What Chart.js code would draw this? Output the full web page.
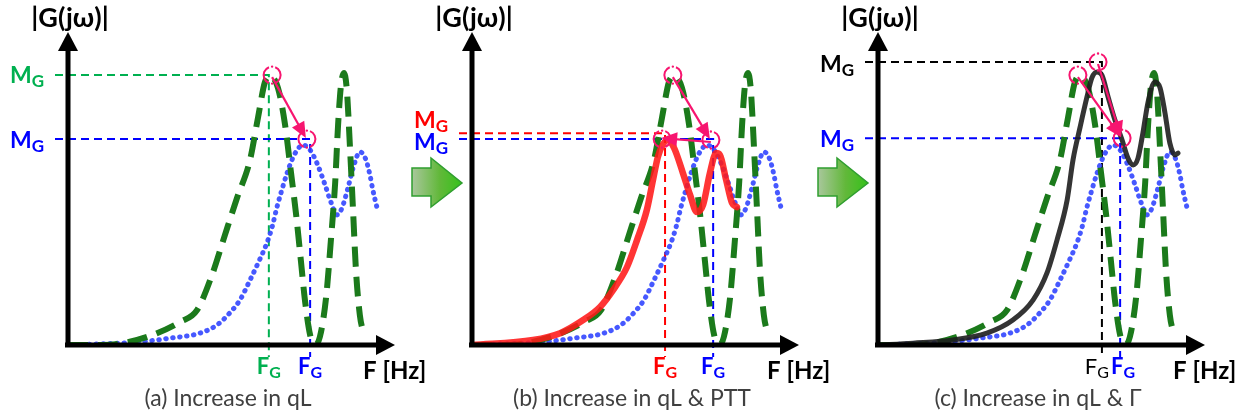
<!DOCTYPE html>
<html>
<head>
<meta charset="utf-8">
<script src="https://cdn.jsdelivr.net/npm/chart.js@4.4.1/dist/chart.umd.min.js"></script>
<style>
  html, body { margin: 0; padding: 0; background: #fff; }
  #wrap { position: relative; width: 1242px; height: 419px; overflow: hidden; background: #fff; }
  canvas { position: absolute; top: 0; }
</style>
</head>
<body>
<div id="wrap">
  <canvas id="panelA" width="432" height="419" style="left:0px"></canvas>
  <canvas id="panelB" width="432" height="419" style="left:404px"></canvas>
  <canvas id="panelC" width="432" height="419" style="left:810px"></canvas>
</div>
<script>
// frequency and magnitude are in arbitrary units, 0..100 on both axes

// baseline response (green dashed)
const greenF = [0, 10.8, 16.9, 25.2, 34.5, 39.7, 44.3, 48.3, 52.0, 56.0, 58.5, 60.6, 62.2, 64.6, 66.8, 68.6, 70.2, 71.7, 72.9, 74.5, 76.0, 77.5, 79.4, 80.9, 82.2, 83.1, 84.0, 84.9, 85.8, 86.8, 87.7, 88.6, 89.8, 91.1];
const greenM = [0, 0, 0.6, 2.9, 7.4, 11.2, 22.4, 35.3, 47.1, 59.3, 73.1, 84.3, 86.2, 82.4, 70.5, 55.4, 41.7, 26.6, 14.4, 3.2, 0, 2.6, 15.1, 33.7, 51.9, 70.5, 83.3, 87.2, 81.7, 62.5, 43.3, 24.0, 9.6, 3.2];

// response after increase in qL (blue dotted)
const blueF = [0, 22.2, 31.4, 40.6, 45.8, 49.8, 52.9, 56.0, 58.5, 61.2, 62.8, 64.3, 65.8, 67.4, 68.9, 70.5, 72.3, 74.5, 76.6, 79.1, 80.9, 82.8, 84.3, 86.2, 88.0, 89.8, 91.7, 92.9, 93.8, 95.1];
const blueM = [0, 1.0, 2.2, 3.8, 6.4, 10.3, 14.4, 20.8, 26.3, 32.7, 37.8, 44.2, 49.7, 55.1, 59.3, 62.5, 64.1, 62.5, 58.3, 51.3, 45.8, 41.7, 43.9, 50.6, 57.7, 61.9, 59.3, 54.5, 49.7, 43.9];

// increase in qL & PTT (red)
const redF = [0, 18.8, 27.1, 34.2, 39.4, 43.4, 47.7, 50.8, 53.8, 55.7, 57.2, 58.8, 60.3, 62.2, 64.9, 67.1, 69.2, 71.1, 73.2, 75.1, 76.3, 78.2, 80.0, 81.5];
const redM = [0, 1.6, 3.8, 8.0, 12.2, 17.6, 25.0, 33.7, 43.3, 52.9, 60.3, 64.4, 65.7, 63.1, 55.1, 48.1, 42.6, 44.9, 55.1, 61.5, 60.9, 52.9, 45.5, 44.2];

// increase in qL & Gamma (black)
const blackF = [0, 10.8, 23.1, 33.5, 41.5, 47.7, 52.0, 55.1, 58.2, 60.0, 62.2, 64.3, 65.8, 67.4, 68.9, 70.8, 72.9, 75.1, 76.9, 78.5, 80.0, 81.5, 83.1, 85.2, 86.8, 88.3, 89.8, 91.4, 92.3];
const blackM = [0, 0.6, 1.6, 3.8, 8.0, 14.4, 23.1, 33.7, 46.5, 59.3, 69.9, 79.5, 85.6, 87.5, 86.5, 79.5, 72.1, 65.7, 59.9, 57.7, 59.9, 67.9, 77.9, 84.3, 82.4, 74.4, 64.7, 60.9, 61.5];

// peak magnitude (MG) and peak frequency (FG) markers per panel
const mgA = [86.5, 66.0];   // green, blue
const fgA = [61.8, 74.5];
const mgB = [67.9, 66.0];   // red, blue
const fgB = [59.4, 74.2];
const mgC = [90.7, 66.3];   // black, blue
const fgC = [68.9, 74.5];

// dashed rings round the peaks
const ringAx = [62.8, 73.5];
const ringAy = [86.5, 66.0];
const ringBx = [61.8, 58.5, 73.5];
const ringBy = [86.5, 66.0, 65.7];
const ringCx = [67.7, 61.5, 75.1];
const ringCy = [90.7, 86.5, 66.3];

const captions = ['(a) Increase in qL', '(b) Increase in qL & PTT', '(c) Increase in qL & \u0393'];

const PINK = '#f7156f';
const FONT = 'Lato, "Open Sans", sans-serif';

function pts(xs, ys) {
  return xs.map(function (x, i) { return { x: x, y: ys[i] }; });
}

function subText(ctx, big, small, x, y, color, bigFont, smallFont, center) {
  ctx.font = bigFont;
  var w1 = ctx.measureText(big).width;
  ctx.font = smallFont;
  var w2 = ctx.measureText(small).width;
  var x0 = center ? x - (w1 + w2) / 2 : x;
  ctx.fillStyle = color;
  ctx.textAlign = 'left';
  ctx.textBaseline = 'alphabetic';
  ctx.font = bigFont;
  ctx.fillText(big, x0, y);
  ctx.font = smallFont;
  ctx.fillText(small, x0 + w1, y + 4);
}

function arrowLine(ctx, x0, y0, x1, y1) {
  var a = Math.atan2(y1 - y0, x1 - x0);
  var c = Math.cos(a), s = Math.sin(a);
  ctx.save();
  ctx.setLineDash([]);
  ctx.strokeStyle = PINK;
  ctx.fillStyle = PINK;
  ctx.lineWidth = 2.2;
  ctx.beginPath();
  ctx.moveTo(x0, y0);
  ctx.lineTo(x1 - 10 * c, y1 - 10 * s);
  ctx.stroke();
  ctx.beginPath();
  ctx.moveTo(x1, y1);
  ctx.lineTo(x1 - 16 * c + 7 * s, y1 - 16 * s - 7 * c);
  ctx.lineTo(x1 - 16 * c - 7 * s, y1 - 16 * s + 7 * c);
  ctx.closePath();
  ctx.fill();
  ctx.restore();
}

function ring(ctx, x, y) {
  ctx.save();
  ctx.setLineDash([]);
  ctx.strokeStyle = PINK;
  ctx.fillStyle = PINK;
  ctx.lineWidth = 2;
  ctx.beginPath();
  ctx.arc(x, y, 8.5, Math.PI * 0.62, Math.PI * 1.38);
  ctx.stroke();
  ctx.beginPath();
  ctx.arc(x, y, 8.5, -Math.PI * 0.38, Math.PI * 0.38);
  ctx.stroke();
  ctx.beginPath();
  ctx.arc(x, y - 8.5, 1.2, 0, Math.PI * 2);
  ctx.arc(x, y + 8.5, 1.2, 0, Math.PI * 2);
  ctx.fill();
  ctx.restore();
}

// decorations: reference lines, axes, rings, arrows and labels
const decor = {
  id: 'decor',
  beforeDatasetsDraw(chart, args, o) {
    var ctx = chart.ctx, xs = chart.scales.x, ys = chart.scales.y;
    var L = chart.chartArea.left, B = chart.chartArea.bottom;
    ctx.save();
    ctx.lineWidth = 2;
    ctx.setLineDash([8, 5]);
    for (var i = 0; i < o.mg.length; i++) {
      var py = ys.getPixelForValue(o.mg[i]);
      var px = xs.getPixelForValue(o.fg[i]);
      ctx.strokeStyle = o.refColors[i];
      ctx.beginPath();
      ctx.moveTo(L - 13, py);
      ctx.lineTo(px, py);
      ctx.lineTo(px, B + 12);
      ctx.stroke();
    }
    ctx.restore();
  },
  afterDatasetsDraw(chart, args, o) {
    var ctx = chart.ctx, xs = chart.scales.x, ys = chart.scales.y;
    var a = chart.chartArea;
    var L = a.left, R = a.right, T = a.top, B = a.bottom;
    ctx.save();

    // axes with arrow heads
    ctx.setLineDash([]);
    ctx.strokeStyle = '#000';
    ctx.fillStyle = '#000';
    ctx.lineWidth = 5;
    ctx.beginPath();
    ctx.moveTo(L, B + 2);
    ctx.lineTo(L, T + 16);
    ctx.moveTo(L - 3, B);
    ctx.lineTo(R - 14, B);
    ctx.stroke();
    ctx.beginPath();
    ctx.moveTo(L, T - 1);
    ctx.lineTo(L + 10, T + 18);
    ctx.lineTo(L - 10, T + 18);
    ctx.closePath();
    ctx.fill();
    ctx.beginPath();
    ctx.moveTo(R + 2, B);
    ctx.lineTo(R - 17, B - 10);
    ctx.lineTo(R - 17, B + 10);
    ctx.closePath();
    ctx.fill();

    // rings and arrows
    var rp = o.ringX.map(function (x, i) {
      return [xs.getPixelForValue(x), ys.getPixelForValue(o.ringY[i])];
    });
    rp.forEach(function (p) { ring(ctx, p[0], p[1]); });
    o.links.forEach(function (k) {
      arrowLine(ctx, rp[k[0]][0], rp[k[0]][1] + 2, rp[k[1]][0] - 1, rp[k[1]][1] - 1);
    });

    // text
    ctx.textBaseline = 'alphabetic';
    ctx.textAlign = 'center';
    ctx.fillStyle = '#000';
    ctx.font = 'bold 27px ' + FONT;
    ctx.fillText('|G(j\u03c9)|', L + 2, 27);
    ctx.textAlign = 'left';
    ctx.font = 'bold 24px ' + FONT;
    ctx.fillText('F [Hz]', R - 30, 379);
    ctx.textAlign = 'center';
    ctx.fillStyle = '#404040';
    ctx.font = '23px ' + FONT;
    ctx.fillText(o.caption, L + 160, 406);

    for (var i = 0; i < o.mg.length; i++) {
      var py = ys.getPixelForValue(o.mg[i]);
      var px = xs.getPixelForValue(o.fg[i]);
      subText(ctx, 'M', 'G', L - 58, py + o.labelDy[i], o.labelColors[i],
        'bold 23px ' + FONT, 'bold 17px ' + FONT, false);
      subText(ctx, 'F', 'G', px + o.fgDx[i], 374, o.labelColors[i],
        o.fgWeight[i] + ' 22px ' + FONT, o.fgWeight[i] + ' 16px ' + FONT, true);
    }
    ctx.restore();
  },
  afterDraw(chart, args, o) {
    if (!o.block) return;
    var ctx = chart.ctx, L = chart.chartArea.left;
    ctx.save();
    var g = ctx.createLinearGradient(L - 60, 0, L - 10, 0);
    g.addColorStop(0, '#a9c79c');
    g.addColorStop(0.55, '#62b83a');
    g.addColorStop(1, '#35c21a');
    ctx.fillStyle = g;
    ctx.strokeStyle = '#2f9e2f';
    ctx.lineWidth = 1.5;
    ctx.beginPath();
    ctx.moveTo(L - 60, 168);
    ctx.lineTo(L - 41, 168);
    ctx.lineTo(L - 41, 158);
    ctx.lineTo(L - 10, 183);
    ctx.lineTo(L - 41, 207);
    ctx.lineTo(L - 41, 196);
    ctx.lineTo(L - 60, 196);
    ctx.closePath();
    ctx.fill();
    ctx.stroke();
    ctx.restore();
  }
};

const greenSet = {
  data: pts(greenF, greenM), borderColor: '#1b7a1b', borderWidth: 6,
  borderDash: [20, 10], borderCapStyle: 'butt'
};
const blueSet = {
  data: pts(blueF, blueM), borderColor: 'rgba(50,70,255,0.9)', borderWidth: 5,
  borderDash: [0.5, 6.5], borderCapStyle: 'round'
};

function makePanel(id, sets, opts) {
  return new Chart(document.getElementById(id), {
    type: 'line',
    data: { datasets: sets },
    options: {
      responsive: false,
      animation: false,
      devicePixelRatio: 1,
      layout: { padding: { left: 68, right: 39, top: 33, bottom: 74 } },
      scales: {
        x: { type: 'linear', min: 0, max: 100, display: false },
        y: { type: 'linear', min: 0, max: 100, display: false }
      },
      elements: { point: { radius: 0 }, line: { cubicInterpolationMode: 'monotone', fill: false } },
      plugins: { legend: { display: false }, tooltip: { enabled: false }, decor: opts }
    },
    plugins: [decor]
  });
}

makePanel('panelA', [Object.assign({}, greenSet), Object.assign({}, blueSet)], {
  mg: mgA, fg: fgA,
  refColors: ['#00b050', '#0000ff'], labelColors: ['#00b050', '#0000ff'],
  labelDy: [8, 9], fgWeight: ['bold', 'bold'], fgDx: [0, 0],
  ringX: ringAx, ringY: ringAy, links: [[0, 1]],
  caption: captions[0], block: false
});

makePanel('panelB', [
  { data: pts(redF, redM), borderColor: 'rgba(255,25,25,0.88)', borderWidth: 6.5, borderCapStyle: 'round' },
  Object.assign({}, greenSet), Object.assign({}, blueSet)
], {
  mg: mgB, fg: fgB,
  refColors: ['#ff0000', '#0000ff'], labelColors: ['#ff0000', '#0000ff'],
  labelDy: [-5, 11], fgWeight: ['bold', 'bold'], fgDx: [0, 0],
  ringX: ringBx, ringY: ringBy, links: [[0, 2], [2, 1]],
  caption: captions[1], block: true
});

makePanel('panelC', [
  { data: pts(blackF, blackM), borderColor: 'rgba(30,30,30,0.9)', borderWidth: 5, borderCapStyle: 'round' },
  Object.assign({}, greenSet), Object.assign({}, blueSet)
], {
  mg: mgC, fg: fgC,
  refColors: ['#000000', '#0000ff'], labelColors: ['#000000', '#0000ff'],
  labelDy: [10, 9], fgWeight: ['normal', 'bold'], fgDx: [-5, 3],
  ringX: ringCx, ringY: ringCy, links: [[0, 2], [1, 2]],
  caption: captions[2], block: true
});
</script>
</body>
</html>
